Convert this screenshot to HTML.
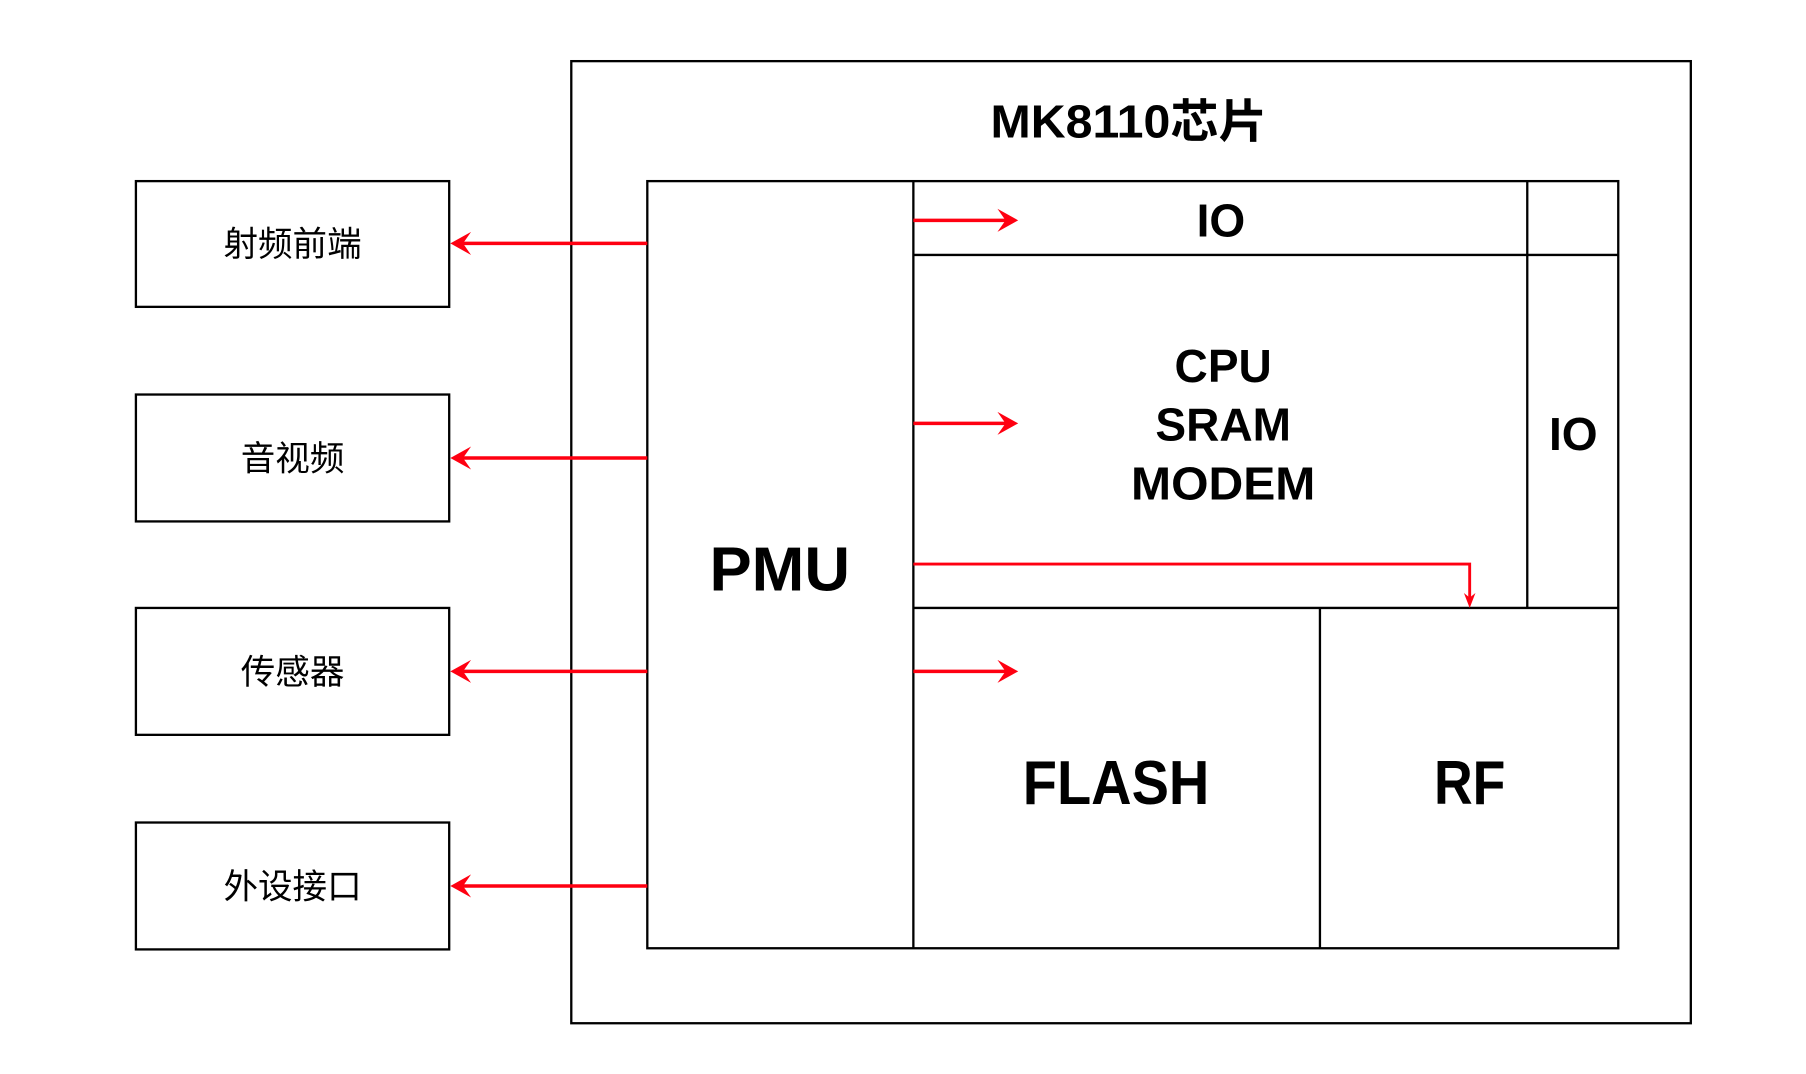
<!DOCTYPE html>
<html><head><meta charset="utf-8"><style>
html,body{margin:0;padding:0;background:#fff;}
svg{display:block;}
text{font-family:"Liberation Sans","Noto Sans CJK SC",sans-serif;fill:#000;}
</style></head><body>
<svg width="1806" height="1074" viewBox="0 0 1568 931" preserveAspectRatio="none" xmlns="http://www.w3.org/2000/svg">
<rect x="0" y="0" width="1568" height="931" fill="#fff"/>
<g fill="none" stroke="#000" stroke-width="2">
<rect x="496" y="53" width="972" height="834"/>
<rect x="118" y="157" width="272" height="109"/>
<rect x="118" y="342" width="272" height="110"/>
<rect x="118" y="527" width="272" height="110"/>
<rect x="118" y="713" width="272" height="110"/>
<rect x="562" y="157" width="843" height="665"/>
<line x1="793" y1="157" x2="793" y2="822"/>
<line x1="793" y1="221" x2="1405" y2="221"/>
<line x1="1326" y1="157" x2="1326" y2="527"/>
<line x1="793" y1="527" x2="1405" y2="527"/>
<line x1="1146" y1="527" x2="1146" y2="822"/>
</g>
<g stroke="#ff0011" stroke-width="3" fill="none">
<line x1="562" y1="211" x2="396" y2="211"/>
<line x1="562" y1="397" x2="396" y2="397"/>
<line x1="562" y1="582" x2="396" y2="582"/>
<line x1="562" y1="768" x2="396" y2="768"/>
<line x1="793" y1="191" x2="878" y2="191"/>
<line x1="793" y1="367" x2="878" y2="367"/>
<line x1="793" y1="582" x2="878" y2="582"/>
<polyline points="793,489 1276,489 1276,518" stroke-width="2.5"/>
</g>
<g fill="#ff0011">
<path d="M391,211 L409,201 L402,211 L409,221 Z"/>
<path d="M391,397 L409,387 L402,397 L409,407 Z"/>
<path d="M391,582 L409,572 L402,582 L409,592 Z"/>
<path d="M391,768 L409,758 L402,768 L409,778 Z"/>
<path d="M884,191 L866,181 L873,191 L866,201 Z"/>
<path d="M884,367 L866,357 L873,367 L866,377 Z"/>
<path d="M884,582 L866,572 L873,582 L866,592 Z"/>
<path d="M1276,527 L1271,514 L1276,518 L1281,514 Z"/>
</g>
<g text-anchor="middle" font-weight="bold">
<text x="980" y="119" font-size="40" textLength="240" lengthAdjust="spacingAndGlyphs">MK8110芯片</text>
<text x="1060" y="205" font-size="40">IO</text>
<text x="1062" y="331" font-size="40">CPU</text>
<text x="1062" y="382" font-size="40">SRAM</text>
<text x="1062" y="433" font-size="40" textLength="160" lengthAdjust="spacingAndGlyphs">MODEM</text>
<text x="1366" y="390" font-size="40">IO</text>
<text x="677" y="512" font-size="54" textLength="122" lengthAdjust="spacingAndGlyphs">PMU</text>
<text x="969" y="697" font-size="54" textLength="162" lengthAdjust="spacingAndGlyphs">FLASH</text>
<text x="1276" y="697" font-size="54" textLength="62" lengthAdjust="spacingAndGlyphs">RF</text>
</g>
<g text-anchor="middle" font-size="30">
<text x="254" y="222">射频前端</text>
<text x="254" y="408">音视频</text>
<text x="254" y="593">传感器</text>
<text x="254" y="779">外设接口</text>
</g>
</svg>
</body></html>
